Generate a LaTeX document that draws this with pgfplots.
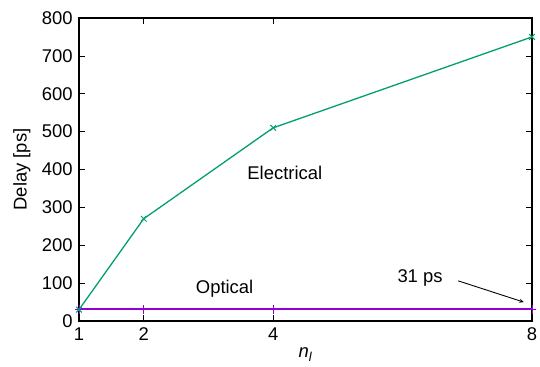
\documentclass[border=0pt]{standalone}
\usepackage{fontspec}
\setmainfont{Liberation Sans}
\usepackage{pgfplots}
\pgfplotsset{compat=1.18}
\definecolor{gpgreen}{HTML}{009E73}
\definecolor{gppurple}{HTML}{9400D3}
\begin{document}
\fontsize{18.5}{22}\selectfont
\begin{tikzpicture}
\path[use as bounding box] (-79bp,-46bp) rectangle (461bp,321bp);
\begin{axis}[
  at={(0,0)}, anchor=south west,
  scale only axis, width=453bp, height=303bp,
  xmin=1, xmax=8, ymin=0, ymax=800,
  xtick={1,2,4,8}, ytick={0,100,...,800},
  /pgf/number format/assume math mode=true,
  tick label style={font=\fontsize{18.5}{22}\selectfont},
  label style={font=\fontsize{18.5}{22}\selectfont},
  axis line style={line width=1.5pt},
  major tick length=6bp,
  tick style={black, line width=0.7pt},
  xlabel={\textit{n}\textsubscript{\textit{l}}},
  ylabel={Delay [ps]},
  xlabel style={yshift=5bp},
  ylabel style={yshift=-1bp},
  clip=false,
]
\addplot[color=gppurple, line width=1.6pt, mark=+, mark size=4.5pt, mark options={solid, line width=1pt, draw=gppurple}] coordinates {(1,31) (2,31) (4,31) (8,31)};
\addplot[color=gpgreen, line width=1.3pt, mark=x, mark size=4pt, mark options={solid, line width=1pt, draw=gpgreen}] coordinates {(1,30) (2,270) (4,510) (8,750)};
\node at (axis cs:4.18,390) {Electrical};
\node at (axis cs:3.25,84) {Optical};
\node at (axis cs:6.27,113) {31 ps};
\draw[-stealth, line width=0.9pt] (axis cs:6.86,106) -- (axis cs:7.87,50);
\end{axis}
\end{tikzpicture}
\end{document}
